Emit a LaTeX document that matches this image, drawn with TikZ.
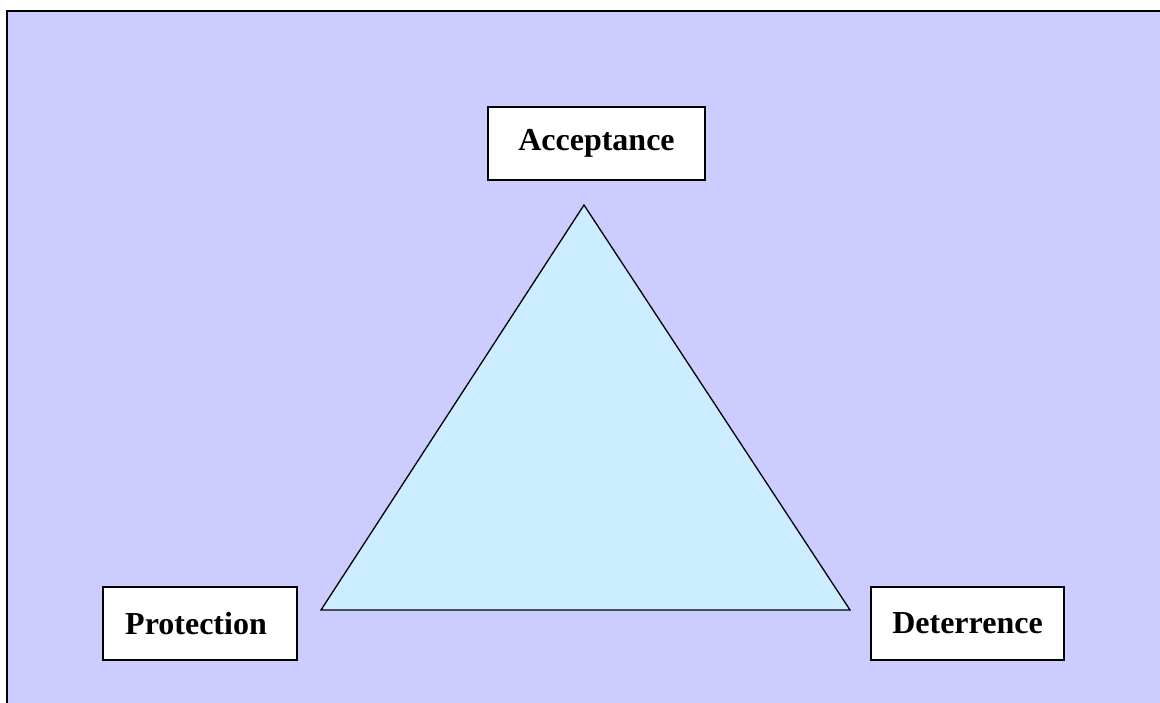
\documentclass[tikz,border=0pt]{standalone}
\usepackage{fontspec}
\setmainfont{Liberation Serif}
\definecolor{bgpanel}{HTML}{CCCCFF}
\definecolor{trifill}{HTML}{CCECFF}
\begin{document}
\begin{tikzpicture}[x=1pt,y=-1pt,
  labelbox/.style={draw=black,line width=1.8pt,fill=white,minimum width=#1,minimum height=73pt,inner sep=0pt,font=\fontsize{32}{36}\selectfont\bfseries},
  labelbox/.default=200pt]
\useasboundingbox (0,0) rectangle (1160,703);
\fill[white] (0,0) rectangle (1160,703);
\fill[bgpanel] (7,11) rectangle (1160,703);
\draw[line width=2pt] (7,703) -- (7,11) -- (1160,11);
\coordinate (apex) at (584,205);
\coordinate (bl) at (321,610);
\coordinate (br) at (850,610);
\draw[fill=trifill,line width=1.3pt,line join=miter] (apex) -- (bl) -- (br) -- cycle;
\node[labelbox=217pt] (acc) at (596.5,143.5) {Acceptance};
\node[labelbox=194pt] (pro) at (200,623.5) {\kern-8pt Protection};
\node[labelbox=193pt] (det) at (967.5,623.5) {Deterrence};
\end{tikzpicture}
\end{document}
